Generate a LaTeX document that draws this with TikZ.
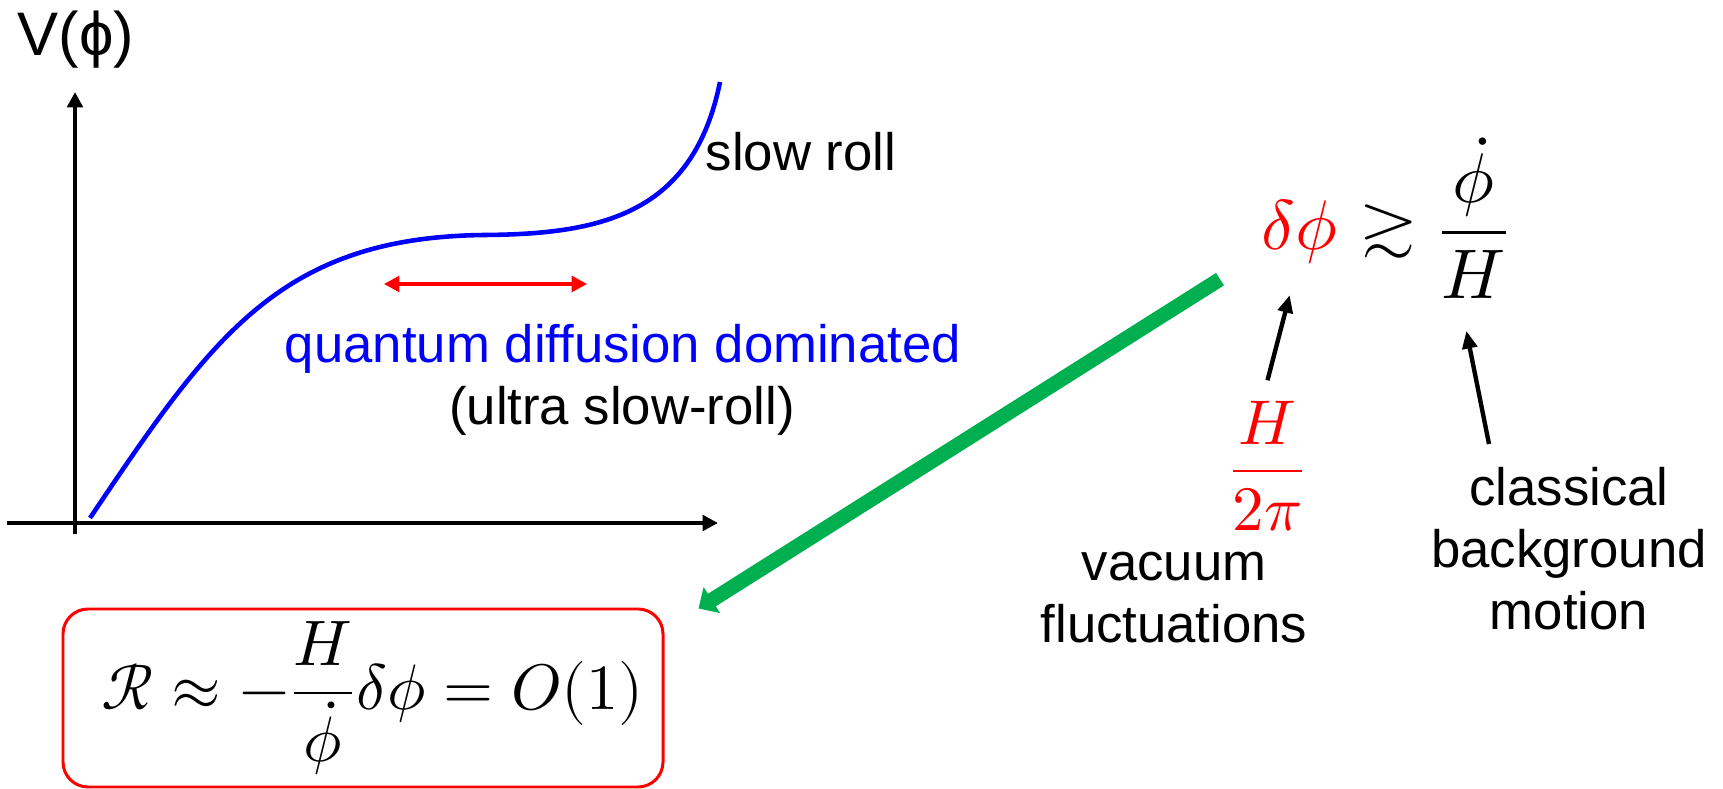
\documentclass[tikz,border=0pt]{standalone}
\usepackage{amsmath}
\usepackage{unicode-math}
\setmainfont{Liberation Sans}
\setmathfont{Latin Modern Math}
\usetikzlibrary{arrows.meta, positioning, calc}
\definecolor{pptgreen}{RGB}{0,176,80}
\tikzset{
    axisline/.style={-{Triangle[length=4.4pt,width=4.4pt]}, line width=1.3pt},
    potcurve/.style={line width=1.3pt, draw=blue},
    rangearrow/.style={{Triangle[length=4.4pt,width=4.5pt]}-{Triangle[length=4.4pt,width=4.5pt]}, line width=1pt, draw=red},
    pointer/.style={-{Triangle[length=5pt,width=4.2pt]}, line width=1.25pt},
    bigarrow/.style={-{Triangle[length=4.5pt,width=8.5pt]}, line width=4.2pt, draw=pptgreen},
    txt/.style={inner sep=0pt, font=\fontsize{15}{18}\selectfont},
    mathbig/.style={inner sep=0pt, font=\fontsize{20}{24}\selectfont},
    eqbox/.style={draw=red, line width=0.85pt, rounded corners=0.25cm, minimum width=6cm, minimum height=1.78cm, inner sep=0pt, font=\fontsize{18.3}{22}\selectfont}
}

\begin{document}
\begin{tikzpicture}
    \useasboundingbox (0,0) rectangle (17.23,-7.89);

    % Axes
    \draw[axisline] (0.75,-5.34) -- (0.75,-0.92);
    \draw[axisline] (0.07,-5.23) -- (7.18,-5.23);
    \node[txt, anchor=base west, font=\fontsize{17.5}{21}\selectfont] (Vphi) at (0.17,-0.56) {V(ϕ)};

    % Potential
    \draw[potcurve] (0.90,-5.18) .. controls (2.12,-3.365) and (2.80,-2.37) .. (4.85,-2.35)
        .. controls (6.00,-2.34) and (6.93,-2.15) .. (7.20,-0.82);
    \node[txt, anchor=base west] (slow) at (7.05,-1.71) {slow roll};

    % Plateau
    \draw[rangearrow] (3.84,-2.84) -- (5.87,-2.84);
    \node[txt, anchor=base, text=blue] (qdiff) at (6.23,-3.625) {quantum diffusion dominated};
    \node[txt, anchor=base] (usr) at (6.22,-4.25) {(ultra slow-roll)};

    % Condition
    \node[mathbig, anchor=base west, text=red] (dphi) at (12.61,-2.50) {$\delta\phi$};
    \node[mathbig, anchor=base west] (gtr) at (13.61,-2.50) {$\gtrsim$};
    \node[mathbig, anchor=base west] (ratio) at (14.37,-2.50) {$\dfrac{\dot\phi}{H}$};
    \node[inner sep=0pt, anchor=base, text=red, font=\fontsize{18}{22}\selectfont] (hfrac) at (12.675,-4.87) {$\dfrac{H}{2\pi}$};
    \node[txt, anchor=base] (vac1) at (11.74,-5.81) {vacuum};
    \node[txt, anchor=base] (vac2) at (11.74,-6.43) {fluctuations};
    \node[txt, anchor=base] (cls1) at (15.69,-5.06) {classical};
    \node[txt, anchor=base] (cls2) at (15.69,-5.68) {background};
    \node[txt, anchor=base] (cls3) at (15.69,-6.30) {motion};

    \draw[pointer] ([yshift=2mm]hfrac.north) -- ([xshift=-1mm,yshift=-3mm]dphi.south);
    \draw[pointer] ([xshift=-8mm,yshift=2.3mm]cls1.north) -- ([xshift=-0.75mm,yshift=-3.2mm]ratio.south);

    % Curvature perturbation
    \node[eqbox] (Rbox) at (3.63,-6.98) {\hspace*{0.19cm}$\mathcal{R}\approx-\dfrac{H}{\dot\phi}\delta\phi=O(1)$};
    \draw[bigarrow] ([xshift=-4.1mm,yshift=-4.7mm]dphi.west) -- ([xshift=3.4mm,yshift=-0.1mm]Rbox.north east);
\end{tikzpicture}
\end{document}
